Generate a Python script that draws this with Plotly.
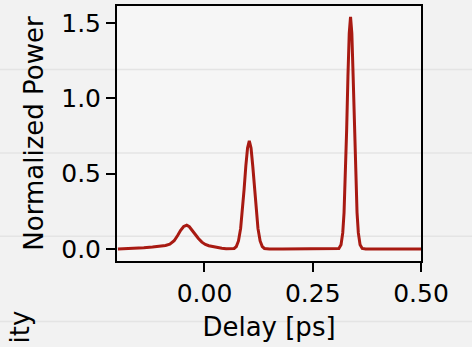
import plotly.graph_objects as go

# Delay [ps] and normalized power
delay_ps = [
    -0.200, -0.180, -0.160, -0.140, -0.120, -0.100, -0.090, -0.080, -0.070, -0.062,
    -0.055, -0.048, -0.041, -0.035, -0.029, -0.022, -0.014, -0.006, 0.002, 0.010,
    0.020, 0.029, 0.040, 0.050, 0.060, 0.0685, 0.0735, 0.0785, 0.0835, 0.0875,
    0.0915, 0.0955, 0.0995, 0.1035, 0.1075, 0.1115, 0.1155, 0.1195, 0.1235, 0.1285,
    0.1335, 0.1385, 0.150, 0.180, 0.220, 0.260, 0.290, 0.3023, 0.3103, 0.3153,
    0.3193, 0.3223, 0.3253, 0.3283, 0.3313, 0.3343, 0.3373, 0.3403, 0.3433, 0.3463,
    0.3493, 0.3523, 0.3553, 0.3593, 0.3643, 0.3723, 0.400, 0.450, 0.500,
]
norm_power = [
    0.000, 0.002, 0.005, 0.009, 0.014, 0.020, 0.024, 0.032, 0.055, 0.090,
    0.125, 0.150, 0.158, 0.148, 0.125, 0.098, 0.070, 0.046, 0.031, 0.022,
    0.015, 0.009, 0.005, 0.002, 0.001, 0.004, 0.017, 0.054, 0.137, 0.249,
    0.396, 0.551, 0.671, 0.717, 0.671, 0.551, 0.396, 0.249, 0.137, 0.054,
    0.017, 0.004, 0.001, 0.000, 0.000, 0.000, 0.000, 0.000, 0.004, 0.029,
    0.107, 0.242, 0.472, 0.790, 1.145, 1.430, 1.540, 1.430, 1.145, 0.790,
    0.472, 0.242, 0.107, 0.029, 0.004, 0.000, 0.000, 0.000, 0.000,
]

x_ticks = [0.0, 0.25, 0.5]
x_tick_labels = ["0.00", "0.25", "0.50"]
y_ticks = [0.0, 0.5, 1.0, 1.5]
y_tick_labels = ["0.0", "0.5", "1.0", "1.5"]

FONT = "DejaVu Sans"
LINE_RED = "#a81a12"

fig = go.Figure()
fig.add_trace(go.Scatter(
    x=delay_ps, y=norm_power, mode="lines",
    line=dict(color=LINE_RED, width=3),
    showlegend=False, hoverinfo="skip",
))

# faint background lines of the surrounding figure
bg_lines_y = [0.751, 0.424, 0.0973, -0.237]
shapes = []
for yy in bg_lines_y:
    shapes.append(dict(type="line", xref="paper", yref="paper",
                       x0=-0.40, x1=1.20, y0=yy, y1=yy,
                       line=dict(color="#e4e4e4", width=1.5), layer="below"))

fig.update_layout(
    width=472, height=347,
    margin=dict(l=117, r=51, t=4, b=86, pad=0),
    paper_bgcolor="#f2f2f2",
    plot_bgcolor="#f6f6f6",
    font=dict(family=FONT, size=25, color="black"),
    shapes=shapes,
    annotations=[dict(
        text="ity", xref="paper", yref="paper",
        x=(20 - 117) / 304, y=(261 - 328) / 257,
        xanchor="center", yanchor="middle", textangle=-90,
        showarrow=False, font=dict(family=FONT, size=26, color="black"),
    )],
)
fig.update_xaxes(
    range=[-0.202, 0.5], tickvals=x_ticks, ticktext=x_tick_labels,
    ticks="outside", ticklen=9, tickwidth=2, tickcolor="black",
    showline=True, linewidth=2, linecolor="black", mirror=True,
    showgrid=False, zeroline=False,
    title=dict(text="Delay [ps]", font=dict(size=26), standoff=11),
)
fig.update_yaxes(
    range=[-0.079, 1.612], tickvals=y_ticks, ticktext=y_tick_labels,
    ticks="outside", ticklen=9, tickwidth=2, tickcolor="black",
    showline=True, linewidth=2, linecolor="black", mirror=True,
    showgrid=False, zeroline=False,
    title=dict(text="Normalized Power", font=dict(size=26), standoff=10),
)

fig.write_html("out.html",
               config={"displayModeBar": False, "staticPlot": True},
               post_script="document.body.style.margin='0';document.body.style.overflow='hidden';")
